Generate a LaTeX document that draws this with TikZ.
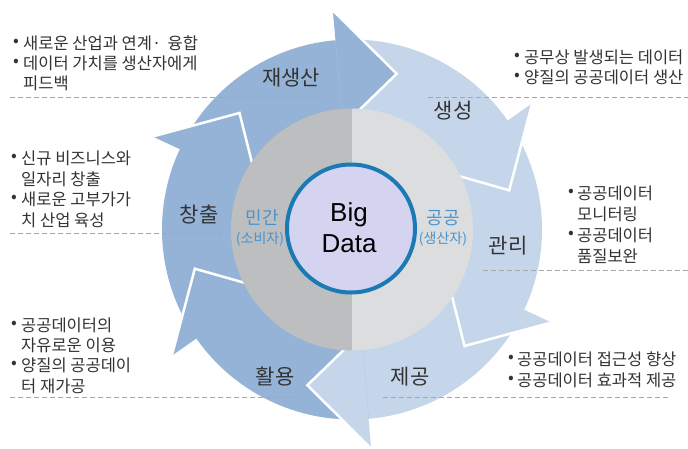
\documentclass[tikz,border=0pt]{standalone}
\usepackage{fontspec}
\newfontfamily\kr{Noto Sans CJK KR}
\newfontfamily\arialf{Liberation Sans}
\definecolor{dkblue}{HTML}{95B3D7}
\definecolor{ltblue}{HTML}{C6D6EA}
\definecolor{grayL}{HTML}{BDBEC0}
\definecolor{grayR}{HTML}{DCDDDF}
\definecolor{core}{HTML}{D4D4F1}
\definecolor{coreline}{HTML}{1B7AB3}
\definecolor{txt}{HTML}{333333}
\definecolor{lbl}{HTML}{4A94CC}
\definecolor{dashc}{HTML}{A6A6A6}
\begin{document}
\begin{tikzpicture}[x=1pt,y=1pt,
  bl/.style={anchor=west, inner sep=0pt, font=\kr\fontsize{16.5}{19}\selectfont, text=txt},
  bu/.style={anchor=center, inner sep=0pt, font=\kr\fontsize{17}{19}\selectfont, text=txt},
  seg/.style={inner sep=0pt, font=\kr\fontsize{21}{24}\selectfont, text=txt},
  side/.style={inner sep=0pt, font=\kr\fontsize{18}{20}\selectfont, text=lbl},
  sidesm/.style={inner sep=0pt, font=\kr\fontsize{14}{16}\selectfont, text=lbl},
  guide/.style={dashc, line width=0.8pt, dash pattern=on 5pt off 3pt}]
\useasboundingbox (0,0) rectangle (688,-448);
\fill[white] (0,0) rectangle (688,-448);

\begin{scope}[shift={(352,-229.5)}]
  % bodies
  \foreach \t/\c in {74/dkblue, 14/ltblue, -46/ltblue, -106/ltblue, -166/dkblue, -226/dkblue}{
    \fill[\c] ({\t+81}:190) arc[start angle=\t+81, end angle=\t+15, radius=190]
      -- ({\t+15}:108) arc[start angle=\t+15, end angle=\t+81, radius=108] -- cycle;
  }
  % heads
  \foreach \t/\c in {74/dkblue, 14/ltblue, -46/ltblue, -106/ltblue, -166/dkblue, -226/dkblue}{
    \fill[\c] ({\t+21}:220) -- (\t:162) -- ({\t+21}:104) -- cycle;
    \draw[white, line width=2.5pt, line join=miter] ({\t+21}:220) -- (\t:162) -- ({\t+21}:104);
  }
\end{scope}

% dashed guides
\draw[guide] (10,-97) -- (320,-97);
\draw[guide] (428,-97) -- (688,-97);
\draw[guide] (10,-233) -- (222,-233);
\draw[guide] (483,-270) -- (688,-270);
\draw[guide] (10,-397) -- (300,-397);
\draw[guide] (383,-397) -- (668,-397);

% central discs
\begin{scope}[shift={(352,-229.5)}]
  \fill[grayL] (0,121) arc[start angle=90, end angle=270, radius=121] -- cycle;
  \fill[grayR] (0,-121) arc[start angle=-90, end angle=90, radius=121] -- cycle;
\end{scope}
\node[circle, draw=coreline, line width=4pt, fill=core, minimum size=128pt, inner sep=0pt] (core) at (351,-228.5) {};
\node[align=center, font=\arialf\fontsize{26}{31}\selectfont, text=black] (bd) at (349,-228) {Big\\Data};

\node[side] (mg) at (262,-218) {민간};
\node[sidesm] (mgs) at (260,-239) {(소비자)};
\node[side] (gg) at (443,-218) {공공};
\node[sidesm] (ggs) at (443,-239) {(생산자)};

% segment labels
\node[seg] (s1) at (291,-78) {재생산};
\node[seg] (s2) at (453,-111) {생성};
\node[seg] (s3) at (508,-246) {관리};
\node[seg] (s4) at (410,-377) {제공};
\node[seg] (s5) at (275,-377) {활용};
\node[seg] (s6) at (199,-215) {창출};

% top-left
\node[bu] (b1a) at (16,-43) {•};
\node[bl] (t1a) at (23,-43) {새로운 산업과 연계·\, 융합};
\node[bu] (b1b) at (16,-63) {•};
\node[bl] (t1b) at (23,-63) {데이터 가치를 생산자에게};
\node[bl] (t1c) at (23,-83) {피드백};
% top-right
\node[bu] (b2a) at (517,-57) {•};
\node[bl] (t2a) at (524,-57) {공무상 발생되는 데이터};
\node[bu] (b2b) at (517,-77) {•};
\node[bl] (t2b) at (524,-77) {양질의 공공데이터 생산};
% mid-left
\node[bu] (b3a) at (14,-158) {•};
\node[bl] (t3a) at (21,-158) {신규 비즈니스와};
\node[bl] (t3b) at (21,-179) {일자리 창출};
\node[bu] (b3c) at (14,-199) {•};
\node[bl] (t3c) at (21,-199) {새로운 고부가가};
\node[bl] (t3d) at (21,-220) {치 산업 육성};
% mid-right
\node[bu] (b4a) at (571,-193) {•};
\node[bl] (t4a) at (577,-193) {공공데이터};
\node[bl] (t4b) at (577,-214) {모니터링};
\node[bu] (b4c) at (571,-235) {•};
\node[bl] (t4c) at (577,-235) {공공데이터};
\node[bl] (t4d) at (577,-256) {품질보완};
% bottom-left
\node[bu] (b5a) at (14,-325) {•};
\node[bl] (t5a) at (21,-325) {공공데이터의};
\node[bl] (t5b) at (21,-345) {자유로운 이용};
\node[bu] (b5c) at (14,-365) {•};
\node[bl] (t5c) at (21,-365) {양질의 공공데이};
\node[bl] (t5d) at (21,-386) {터 재가공};
% bottom-right
\node[bu] (b6a) at (511,-359) {•};
\node[bl] (t6a) at (517,-359) {공공데이터 접근성 향상};
\node[bu] (b6b) at (511,-380) {•};
\node[bl] (t6b) at (517,-380) {공공데이터 효과적 제공};
\end{tikzpicture}
\end{document}
